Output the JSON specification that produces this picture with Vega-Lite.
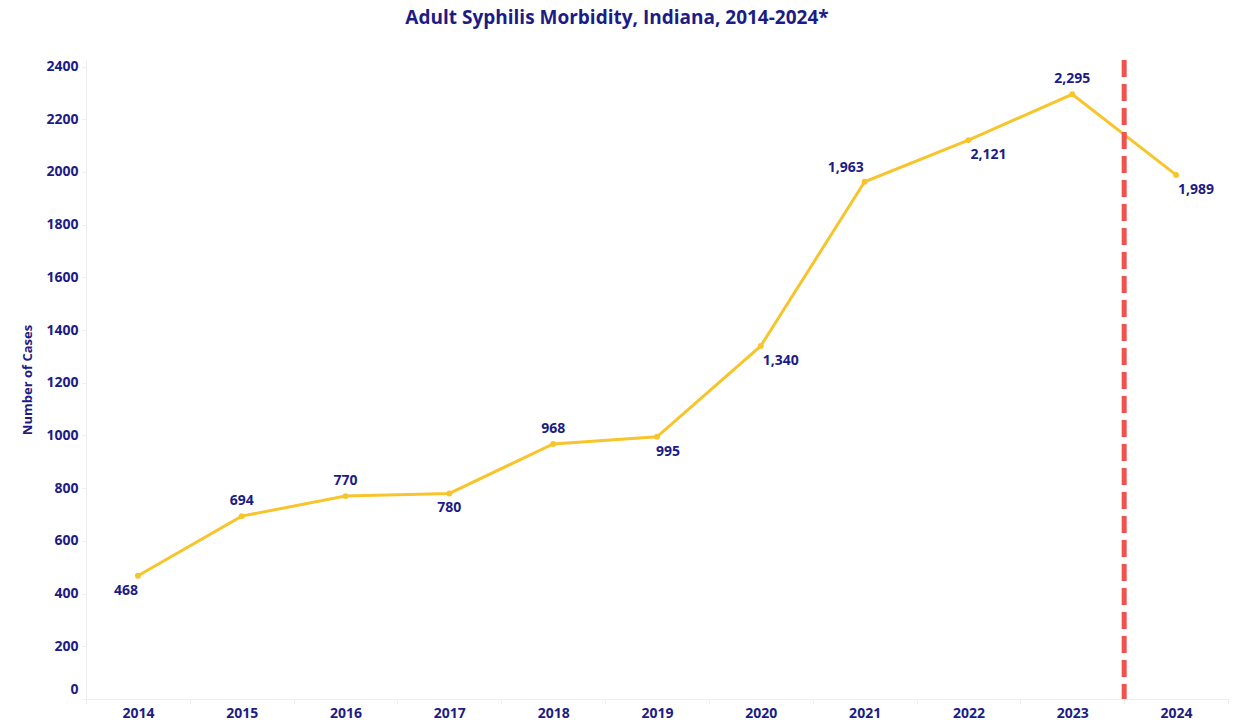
{
  "$schema": "https://vega.github.io/schema/vega-lite/v6.json",
  "autosize": {"type": "none"},
  "width": 1142,
  "height": 639,
  "padding": {"left": 86, "top": 60, "right": 7, "bottom": 21},
  "background": "white",
  "title": {
    "text": "Adult Syphilis Morbidity, Indiana, 2014-2024*",
    "font": "Open Sans",
    "fontSize": 19,
    "fontWeight": "bold",
    "color": "#1C1C84",
    "anchor": "middle",
    "dx": -40,
    "offset": 30
  },
  "config": {
    "view": {"stroke": null},
    "axis": {
      "labelFont": "Open Sans",
      "labelFontWeight": "bold",
      "labelFontSize": 14,
      "labelColor": "#1C1C84",
      "titleFont": "Open Sans",
      "titleColor": "#1C1C84",
      "domainColor": "#eeeeee",
      "tickColor": "#eeeeee",
      "grid": false
    }
  },
  "data": {
    "values": [
      {"year": "2014", "cases": 468},
      {"year": "2015", "cases": 694},
      {"year": "2016", "cases": 770},
      {"year": "2017", "cases": 780},
      {"year": "2018", "cases": 968},
      {"year": "2019", "cases": 995},
      {"year": "2020", "cases": 1340},
      {"year": "2021", "cases": 1963},
      {"year": "2022", "cases": 2121},
      {"year": "2023", "cases": 2295},
      {"year": "2024", "cases": 1989}
    ]
  },
  "encoding": {
    "x": {
      "field": "year",
      "type": "ordinal",
      "bandPosition": 0.5,
      "scale": {"type": "band", "paddingInner": 0, "paddingOuter": 0},
      "axis": {
        "title": null,
        "labelAngle": 0,
        "tickBand": "extent",
        "tickSize": 5,
        "labelPadding": 2
      }
    },
    "y": {
      "field": "cases",
      "type": "quantitative",
      "scale": {"domain": [0, 2425], "nice": false},
      "axis": {
        "title": "Number of Cases",
        "format": "d",
        "titleFontSize": 13,
        "titleFontWeight": "bold",
        "titlePadding": 12,
        "values": [0, 200, 400, 600, 800, 1000, 1200, 1400, 1600, 1800, 2000, 2200, 2400],
        "tickSize": 4,
        "labelPadding": 4,
        "labelFlush": true,
        "labelFlushOffset": -3,
        "minExtent": 40,
        "maxExtent": 40
      }
    }
  },
  "layer": [
    {
      "mark": {"type": "line", "color": "#F7C52B", "strokeWidth": 3}
    },
    {
      "mark": {"type": "point", "filled": true, "color": "#F7C52B", "size": 35, "opacity": 1}
    },
    {
      "data": {"values": [{"year": "2024"}]},
      "mark": {"type": "rule", "color": "#EF5350", "strokeWidth": 5, "strokeDash": [17, 7]},
      "encoding": {
        "x": {"field": "year", "type": "ordinal", "bandPosition": 0},
        "y": null
      }
    },
    {
      "transform": [{"filter": {"field": "year", "oneOf": ["2015", "2016", "2018", "2023"]}}],
      "mark": {"type": "text", "font": "Open Sans", "fontWeight": "bold", "fontSize": 14, "color": "#1C1C84", "dy": -15},
      "encoding": {"text": {"field": "cases", "type": "quantitative", "format": ","}}
    },
    {
      "transform": [{"filter": {"field": "year", "oneOf": ["2017"]}}],
      "mark": {"type": "text", "font": "Open Sans", "fontWeight": "bold", "fontSize": 14, "color": "#1C1C84", "dy": 15},
      "encoding": {"text": {"field": "cases", "type": "quantitative", "format": ","}}
    },
    {
      "transform": [{"filter": {"field": "year", "oneOf": ["2014"]}}],
      "mark": {"type": "text", "font": "Open Sans", "fontWeight": "bold", "fontSize": 14, "color": "#1C1C84", "dx": -12, "dy": 15},
      "encoding": {"text": {"field": "cases", "type": "quantitative", "format": ","}}
    },
    {
      "transform": [{"filter": {"field": "year", "oneOf": ["2019"]}}],
      "mark": {"type": "text", "font": "Open Sans", "fontWeight": "bold", "fontSize": 14, "color": "#1C1C84", "dx": 11, "dy": 15},
      "encoding": {"text": {"field": "cases", "type": "quantitative", "format": ","}}
    },
    {
      "transform": [{"filter": {"field": "year", "oneOf": ["2020", "2022", "2024"]}}],
      "mark": {"type": "text", "font": "Open Sans", "fontWeight": "bold", "fontSize": 14, "color": "#1C1C84", "dx": 20, "dy": 15},
      "encoding": {"text": {"field": "cases", "type": "quantitative", "format": ","}}
    },
    {
      "transform": [{"filter": {"field": "year", "oneOf": ["2021"]}}],
      "mark": {"type": "text", "font": "Open Sans", "fontWeight": "bold", "fontSize": 14, "color": "#1C1C84", "dx": -19, "dy": -14},
      "encoding": {"text": {"field": "cases", "type": "quantitative", "format": ","}}
    }
  ]
}
